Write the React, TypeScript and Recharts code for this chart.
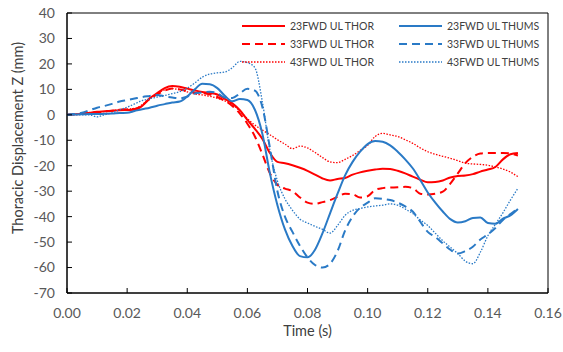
import { LineChart, Line, XAxis, YAxis, ReferenceArea, Legend } from "recharts";

const time = [
  0, 0.0025, 0.005, 0.0075, 0.01, 0.0125, 0.015, 0.0175, 0.02, 0.0225,
  0.025, 0.0275, 0.03, 0.0325, 0.035, 0.0375, 0.04, 0.0425, 0.045, 0.0475,
  0.05, 0.0525, 0.055, 0.0575, 0.06, 0.0625, 0.065, 0.0675, 0.07, 0.0725,
  0.075, 0.0775, 0.08, 0.0825, 0.085, 0.0875, 0.09, 0.0925, 0.095, 0.0975,
  0.1, 0.1025, 0.105, 0.1075, 0.11, 0.1125, 0.115, 0.1175, 0.12, 0.1225,
  0.125, 0.1275, 0.13, 0.1325, 0.135, 0.1375, 0.14, 0.1425, 0.145, 0.1475,
  0.15,
];

const thor23 = [
  0, 0.2, 0.4, 0.8, 1.2, 1.4, 1.6, 1.8, 1.9, 2.0,
  3.5, 6.5, 8.5, 10.5, 11.3, 11.0, 10.3, 9.6, 9.0, 8.6,
  8.0, 6.3, 4.5, 1.8, -2.0, -5.5, -9.5, -15.0, -18.5, -19.0,
  -19.8, -20.8, -22.0, -23.5, -25.0, -25.8, -25.2, -24.8, -23.5, -22.6,
  -22.0, -21.5, -21.2, -21.3, -22.0, -23.0, -24.3, -25.5, -26.5, -26.4,
  -25.8, -24.6, -24.0, -23.8, -23.3, -22.3, -21.5, -20.5, -17.5, -15.5,
  -15.0,
];

const thor33 = [
  0, 0.2, 0.5, 0.8, 1.0, 1.3, 1.6, 2.0, 2.2, 2.3,
  3.8, 6.2, 8.0, 9.5, 10.3, 10.0, 9.3, 8.8, 8.5, 8.0,
  7.0, 5.5, 3.5, 0.5, -3.5, -8.5, -15.5, -23.0, -27.5, -29.0,
  -30.0, -32.5, -34.5, -35.0, -34.3, -33.5, -32.2, -31.0, -31.2, -32.5,
  -32.0, -29.5, -28.8, -28.6, -28.5, -28.3, -28.8, -31.0, -31.3, -31.0,
  -30.2, -27.0, -23.0, -19.0, -16.5, -15.2, -15.0, -15.0, -15.0, -15.2,
  -16.0,
];

const thor43 = [
  0, 0.2, 0.4, 0.7, 1.0, 1.3, 1.6, 2.0, 2.3, 2.5,
  4.0, 6.5, 8.3, 9.8, 10.3, 9.8, 9.0, 8.2, 7.8, 7.3,
  6.5, 5.5, 4.0, 1.5, -1.5, -4.0, -6.0, -7.8, -9.8, -11.5,
  -13.3, -12.3, -13.0, -14.8, -16.8, -18.5, -18.8, -17.5, -16.0, -14.0,
  -12.0, -8.5, -7.3, -7.9, -8.5, -9.8, -11.2, -13.0, -14.5, -15.5,
  -16.3, -17.1, -18.0, -19.0, -19.3, -19.5, -19.8, -20.5, -21.3, -22.5,
  -24.3,
];

const thums23 = [
  0, 0.1, 0.2, 0.3, 0.3, 0.4, 0.5, 0.7, 0.8, 1.5,
  2.2, 2.8, 3.6, 4.2, 4.8, 5.2, 7.2, 10.0, 12.2, 12.0,
  10.5, 7.5, 5.3, 6.2, 5.8, 2.0, -7.5, -23.0, -35.5, -45.0,
  -51.5, -55.5, -56.0, -53.0, -46.5, -38.7, -31.0, -23.8, -18.5, -14.5,
  -11.5, -10.3, -10.6, -12.0, -14.5, -17.5, -21.0, -25.6, -30.5, -34.5,
  -38.0, -41.0, -42.3, -41.8, -40.5, -40.3, -42.5, -42.8, -40.8, -39.5,
  -37.0,
];

const thums33 = [
  0, 0.3, 0.8, 1.8, 2.8, 3.5, 4.3, 5.2, 5.8, 6.4,
  7.0, 7.4, 7.8, 7.3, 6.8, 6.5, 7.2, 8.4, 8.8, 9.1,
  8.5, 6.8, 6.6, 8.4, 10.2, 9.5, 3.0, -13.0, -30.0, -40.0,
  -46.0, -51.5, -56.0, -59.0, -60.0, -58.5, -53.5, -45.5, -40.0, -36.5,
  -34.5, -32.8, -33.0, -33.5, -34.5, -36.0, -38.0, -42.0, -46.0, -48.0,
  -50.5, -53.0, -54.5, -53.5, -51.8, -49.0, -47.0, -44.5, -41.3, -39.0,
  -36.7,
];

const thums43 = [
  0, 0.0, 0.0, 0.0, -0.8, 0.0, 0.8, 1.9, 3.0, 4.3,
  5.6, 6.3, 7.0, 7.6, 8.3, 9.1, 10.5, 12.5, 14.8, 16.0,
  16.5, 16.8, 18.5, 21.0, 20.5, 18.5, 5.0, -14.0, -26.0, -33.0,
  -37.5, -41.0, -42.5, -43.8, -45.0, -46.5, -43.5, -39.5, -37.5, -36.8,
  -36.2, -35.8, -35.5, -35.0, -35.5, -37.0, -38.8, -41.3, -43.5, -46.5,
  -49.5, -52.0, -54.5, -57.5, -58.5, -54.0, -47.5, -43.0, -38.5, -33.5,
  -28.9,
];

const xTicks = [0, 0.02, 0.04, 0.06, 0.08, 0.1, 0.12, 0.14, 0.16];
const yTicks = [-70, -60, -50, -40, -30, -20, -10, 0, 10, 20, 30, 40];

const RED = "#FF0000";
const BLUE = "#2A7AC6";
const FONT = "Lato, 'Open Sans', sans-serif";

const data = time.map((t, i) => ({
  t,
  thor23: thor23[i],
  thor33: thor33[i],
  thor43: thor43[i],
  thums23: thums23[i],
  thums33: thums33[i],
  thums43: thums43[i],
}));

// legend order: THOR column first, then THUMS column
const series = [
  { key: "thor23", name: "23FWD UL THOR", color: RED, dash: undefined, width: 2 },
  { key: "thor33", name: "33FWD UL THOR", color: RED, dash: "8 5", width: 2 },
  { key: "thor43", name: "43FWD UL THOR", color: RED, dash: "1.5 1.5", width: 1.3 },
  { key: "thums23", name: "23FWD UL THUMS", color: BLUE, dash: undefined, width: 2 },
  { key: "thums33", name: "33FWD UL THUMS", color: BLUE, dash: "8 5", width: 2 },
  { key: "thums43", name: "43FWD UL THUMS", color: BLUE, dash: "1.5 1.5", width: 1.3 },
];

const YTick = ({ x, y, payload }: any) => (
  <g>
    <line x1={x + 12} x2={x + 17} y1={y} y2={y} stroke="#000" />
    <text x={x} y={y} dy="0.35em" textAnchor="end" fill="#595959" fontSize={14} fontFamily={FONT}>
      {payload.value}
    </text>
  </g>
);

const XTick = ({ x, y, payload }: any) => (
  <g>
    <line x1={x} x2={x} y1={y - 15} y2={y - 20} stroke="#000" />
    <text x={x} y={y} dy="0.71em" textAnchor="middle" fill="#595959" fontSize={14} fontFamily={FONT}>
      {Number(payload.value).toFixed(2)}
    </text>
  </g>
);

const renderLegend = () => (
  <div
    style={{
      display: "grid",
      gridTemplateColumns: "157px 157px",
      gridTemplateRows: "18px 18px 18px",
      gridAutoFlow: "column",
      fontFamily: FONT,
      fontSize: 10.5,
      color: "#404040",
    }}
  >
    {series.map((s) => (
      <div key={s.key} style={{ display: "flex", alignItems: "center", height: 18 }}>
        <svg width={43} height={6} style={{ marginRight: 5 }}>
          <line x1={0} x2={43} y1={3} y2={3} stroke={s.color} strokeWidth={s.width} strokeDasharray={s.dash} />
        </svg>
        <span>{s.name}</span>
      </div>
    ))}
  </div>
);

const YLabel = ({ viewBox }: any) => {
  const cx = viewBox.x + 9.5;
  const cy = viewBox.y + viewBox.height / 2 - 15;
  return (
    <text
      x={cx}
      y={cy}
      transform={`rotate(-90, ${cx}, ${cy})`}
      textAnchor="middle"
      dominantBaseline="central"
      fill="#404040"
      fontSize={14.5}
      fontFamily={FONT}
    >
      Thoracic Displacement Z (mm)
    </text>
  );
};

export default function App() {
  return (
    <div style={{ fontFamily: FONT }}>
      <style>{`body { margin: 0; }`}</style>
      <LineChart width={563} height={352} data={data} margin={{ top: 13, right: 15, bottom: 4, left: 8 }}>
        <ReferenceArea x1={0} x2={0.16} y1={-70} y2={40} fill="none" stroke="#000" strokeWidth={1} ifOverflow="visible" />
        <XAxis
          dataKey="t"
          type="number"
          domain={[0, 0.16]}
          ticks={xTicks}
          interval={0}
          height={55}
          tickSize={0}
          tickMargin={15}
          tickLine={false}
          tick={<XTick />}
          axisLine={{ stroke: "#000" }}
          label={{ value: "Time (s)", position: "insideBottom", offset: 12, fill: "#404040", fontSize: 14.5 }}
        />
        <YAxis
          type="number"
          domain={[-70, 40]}
          ticks={yTicks}
          interval={0}
          width={59}
          tickSize={0}
          tickMargin={12}
          tickLine={false}
          tick={<YTick />}
          axisLine={{ stroke: "#000" }}
          label={<YLabel />}
        />
        <Legend
          content={renderLegend}
          layout="horizontal"
          verticalAlign="middle"
          align="center"
          wrapperStyle={{ top: 17, left: 242, width: 320 }}
        />
        {series.map((s) => (
          <Line
            key={s.key}
            dataKey={s.key}
            name={s.name}
            type="monotone"
            stroke={s.color}
            strokeWidth={s.width}
            strokeDasharray={s.dash}
            dot={false}
            isAnimationActive={false}
          />
        ))}
      </LineChart>
    </div>
  );
}
